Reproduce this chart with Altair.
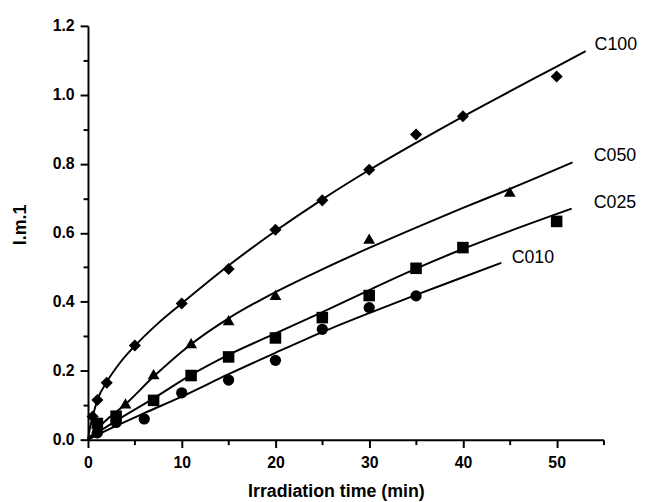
import altair as alt
import pandas as pd

FONT = "Liberation Sans"

series_names = ["C100", "C050", "C025", "C010"]
series_shapes = ["diamond", "triangle-up", "square", "circle"]
series_sizes = [150, 130, 90, 100]

# measured points
c100_x = [0.5, 1, 2, 5, 10, 15, 20, 25, 30, 35, 40, 50]
c100_y = [0.067, 0.115, 0.165, 0.273, 0.395, 0.495, 0.609, 0.694, 0.783, 0.885, 0.938, 1.053]
c050_x = [1, 4, 7, 11, 15, 20, 30, 45]
c050_y = [0.035, 0.105, 0.19, 0.28, 0.347, 0.42, 0.583, 0.719]
c025_x = [1, 3, 7, 11, 15, 20, 25, 30, 35, 40, 50]
c025_y = [0.047, 0.068, 0.114, 0.186, 0.24, 0.295, 0.354, 0.418, 0.497, 0.557, 0.633]
c010_x = [1, 3, 6, 10, 15, 20, 25, 30, 35]
c010_y = [0.02, 0.05, 0.06, 0.136, 0.173, 0.23, 0.32, 0.383, 0.417]

# fitted curves
fit100_x = [0, 0.25, 0.5, 1, 2, 3.5, 5, 7.5, 10, 15, 20, 25, 30, 35, 40, 45, 50, 53.1]
fit100_y = [0, 0.04, 0.067, 0.115, 0.167, 0.226, 0.272, 0.338, 0.395, 0.505, 0.605, 0.697, 0.782, 0.861, 0.937, 1.01, 1.082, 1.127]
fit050_x = [0, 1, 2, 4, 7, 11, 15, 20, 25, 30, 35, 40, 45, 51.7]
fit050_y = [0, 0.032, 0.058, 0.103, 0.183, 0.277, 0.352, 0.428, 0.494, 0.556, 0.615, 0.672, 0.727, 0.804]
fit025_x = [0, 1, 3, 7, 11, 15, 20, 25, 30, 35, 40, 45, 51.6]
fit025_y = [0, 0.02, 0.055, 0.12, 0.188, 0.246, 0.308, 0.37, 0.434, 0.496, 0.553, 0.605, 0.67]
fit010_x = [0, 1, 3, 6, 10, 15, 20, 25, 30, 35, 40, 44.1]
fit010_y = [0, 0.014, 0.04, 0.077, 0.125, 0.19, 0.252, 0.312, 0.367, 0.42, 0.471, 0.513]

label_text = ["C100", "C050", "C025", "C010"]
label_x = [54.05, 53.95, 53.95, 45.2]
label_y = [1.143, 0.822, 0.685, 0.527]

x_major_ticks = [0, 10, 20, 30, 40, 50]
x_minor_ticks = [5, 15, 25, 35, 45, 55]
y_major_ticks = [0.0, 0.2, 0.4, 0.6, 0.8, 1.0, 1.2]
y_minor_ticks = [0.1, 0.3, 0.5, 0.7, 0.9, 1.1]


def frame(xs, ys, name):
    return pd.DataFrame({"x": xs, "y": ys, "series": name})


pts = pd.concat([
    frame(c100_x, c100_y, "C100"),
    frame(c050_x, c050_y, "C050"),
    frame(c025_x, c025_y, "C025"),
    frame(c010_x, c010_y, "C010"),
], ignore_index=True)

fits = pd.concat([
    frame(fit100_x, fit100_y, "C100"),
    frame(fit050_x, fit050_y, "C050"),
    frame(fit025_x, fit025_y, "C025"),
    frame(fit010_x, fit010_y, "C010"),
], ignore_index=True)

labels = pd.DataFrame({"x": label_x, "y": label_y, "label": label_text})

xscale = alt.Scale(domain=[0, 55], nice=False, zero=False)
yscale = alt.Scale(domain=[0, 1.2], nice=False, zero=False)

x_major = alt.Axis(
    values=x_major_ticks, format="d", orient="bottom", grid=False,
    title="Irradiation time (min)",
    domainColor="black", domainWidth=2,
    tickColor="black", tickWidth=2, tickSize=8,
    labelFont=FONT, labelFontSize=16, labelFontWeight="bold", labelColor="black",
    labelPadding=7, labelFlush=False, labelOverlap=False,
    titleFont=FONT, titleFontSize=18, titleFontWeight="bold", titleColor="black",
    titleX=251, titleY=58, titleAlign="center", titleBaseline="alphabetic",
)
y_major = alt.Axis(
    values=y_major_ticks, format=".1f", orient="left", grid=False,
    title="I.m.1",
    domainColor="black", domainWidth=2,
    tickColor="black", tickWidth=2, tickSize=8,
    labelFont=FONT, labelFontSize=16, labelFontWeight="bold", labelColor="black",
    labelPadding=6, labelFlush=False, labelOverlap=False,
    titleFont=FONT, titleFontSize=18, titleFontWeight="bold", titleColor="black",
    titleX=-63.5, titleY=201, titleAlign="center", titleBaseline="alphabetic",
)
x_minor = alt.Axis(values=x_minor_ticks, orient="bottom", labels=False, domain=False,
                   tickSize=5, tickWidth=2, tickColor="black", title=None, grid=False)
y_minor = alt.Axis(values=y_minor_ticks, orient="left", labels=False, domain=False,
                   tickSize=5, tickWidth=2, tickColor="black", title=None, grid=False)

lines = alt.Chart(fits).mark_line(color="black", strokeWidth=2, interpolate="monotone").encode(
    x=alt.X("x:Q", scale=xscale, axis=x_major),
    y=alt.Y("y:Q", scale=yscale, axis=y_major),
    detail="series:N",
)

points = alt.Chart(pts).mark_point(filled=True, color="black", opacity=1).encode(
    x=alt.X("x:Q", scale=xscale, axis=None),
    y=alt.Y("y:Q", scale=yscale, axis=None),
    shape=alt.Shape("series:N", scale=alt.Scale(domain=series_names, range=series_shapes), legend=None),
    size=alt.Size("series:O", scale=alt.Scale(domain=series_names, range=series_sizes), legend=None),
)

texts = alt.Chart(labels).mark_text(align="left", baseline="middle", font=FONT, fontSize=18,
                                    color="black").encode(
    x=alt.X("x:Q", scale=xscale, axis=None),
    y=alt.Y("y:Q", scale=yscale, axis=None),
    text="label:N",
)

minor = alt.Chart(pts).mark_point(opacity=0).encode(
    x=alt.X("x:Q", scale=xscale, axis=x_minor),
    y=alt.Y("y:Q", scale=yscale, axis=y_minor),
)

chart = alt.layer(lines, points, texts, minor).resolve_axis(
    x="independent", y="independent"
).properties(
    width=522, height=419,
    padding={"left": 81, "top": 15, "right": 41, "bottom": 60},
    autosize=alt.AutoSizeParams(type="none"),
).configure_view(stroke=None)

chart.save("out.html", embed_options={"renderer": "svg", "actions": False})
